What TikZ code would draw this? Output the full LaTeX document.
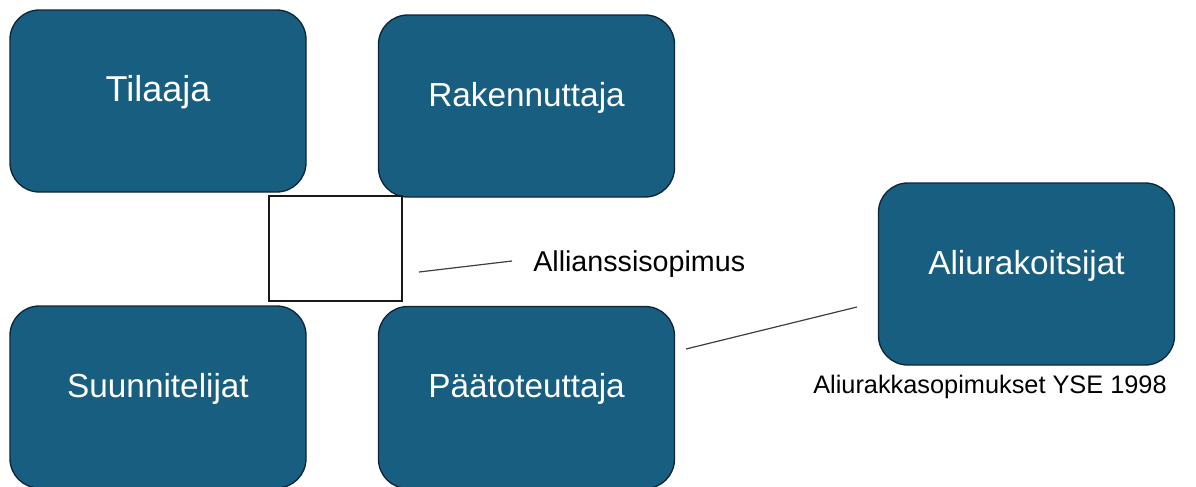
\documentclass[tikz,border=0pt]{standalone}
\usepackage{fontspec}
\setmainfont{Liberation Sans}
\usetikzlibrary{positioning,calc}
\definecolor{boxteal}{RGB}{23,94,129}
\definecolor{boxedge}{RGB}{14,38,54}
\definecolor{ink}{RGB}{62,62,62}
\tikzset{
  party/.style={draw=boxedge, line width=1pt, fill=boxteal, rounded corners=22pt, inner sep=0pt,
    minimum width=222pt, minimum height=136.5pt, text=white,
    font=\fontsize{25}{30}\selectfont, text height=0.8em, text depth=0.8em},
  contract/.style={draw=black!90, line width=1.1pt, fill=white, inner sep=0pt,
    minimum width=99.75pt, minimum height=78.75pt},
  link/.style={draw=ink, line width=0.9pt},
  note/.style={inner sep=0pt, text=black}
}
\begin{document}
\begin{tikzpicture}[x=0.75pt,y=-0.75pt]
\useasboundingbox (0,0) rectangle (1196,486);
\node[party,font=\fontsize{27}{32}\selectfont] (tilaaja) at (158,101) {Tilaaja};
\node[party] (rakennuttaja) at (526.5,106) {Rakennuttaja};
\node[party] (suunnitelijat) at (158,397) {Suunnitelijat};
\node[party] (paatoteuttaja) at (526.5,397.5) {Päätoteuttaja};
\node[party] (aliurakoitsijat) at (1026.5,274) {Aliurakoitsijat};
\node[contract] (allianssi) at (335.5,248.5) {};
\node[note,font=\fontsize{21.5}{26}\selectfont,anchor=base west] (allianssilabel) at (533,271) {Allianssisopimus};
\node[note,font=\fontsize{19}{23}\selectfont,anchor=base] (yselabel) at (990,393) {Aliurakkasopimukset YSE 1998};
\coordinate (a1) at (419,272);
\coordinate (a2) at (512,261);
\coordinate (b1) at (686,349);
\coordinate (b2) at (857,307);
\draw[link] (a1) -- (a2);
\draw[link] (b1) -- (b2);
\end{tikzpicture}
\end{document}
